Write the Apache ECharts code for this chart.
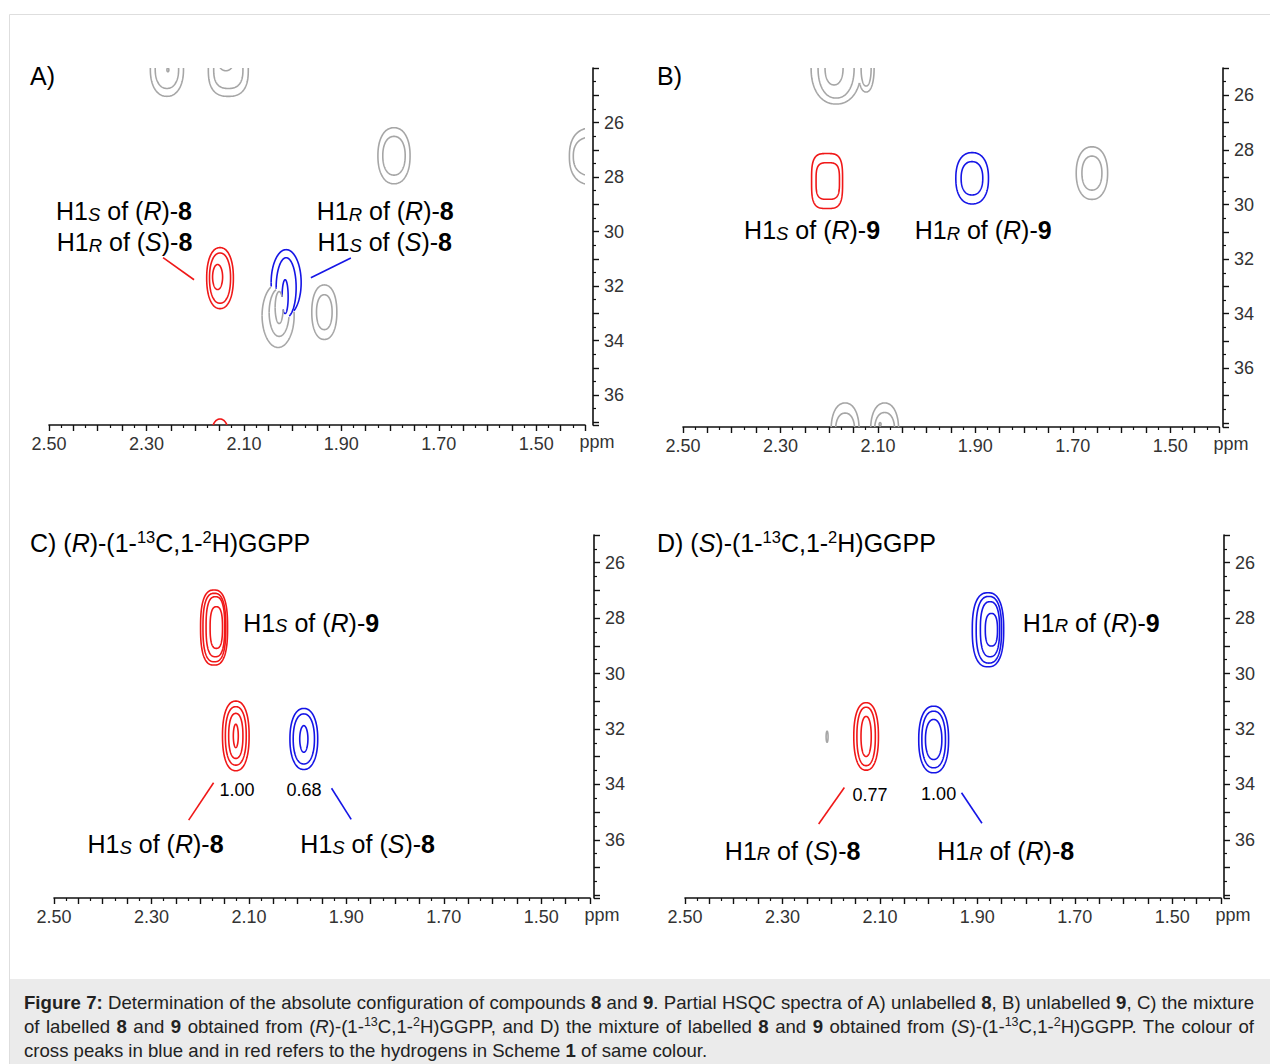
<!DOCTYPE html>
<html>
<head>
<meta charset="utf-8">
<script src="https://cdn.jsdelivr.net/npm/echarts@6/dist/echarts.min.js"></script>
<style>
  html, body { margin: 0; padding: 0; background: #fff; }
  #wrap { position: relative; width: 1270px; height: 1064px; }
  #chart { width: 1270px; height: 1064px; }
  #caption {
    position: absolute; left: 24px; top: 991px; width: 1230px;
    font-family: 'Liberation Sans', Arial, Helvetica, sans-serif;
    font-size: 18.6px; line-height: 24px; color: #222;
  }
  #caption div { white-space: nowrap; }
  #caption div.just { text-align: justify; text-align-last: justify; white-space: normal; }
  #caption sup { font-size: 12.5px; position: relative; top: -7px; vertical-align: baseline; line-height: 0; }
</style>
</head>
<body>
<div id="wrap">
  <div id="chart"></div>
  <div id="caption"></div>
</div>
<script>
// axis ticks / ranges (ppm)
const xTickLabels = ['2.50', '2.30', '2.10', '1.90', '1.70', '1.50'];
const yTickLabels = ['26', '28', '30', '32', '34', '36'];
const protonRange = [1.40, 2.50];
const carbonRanges = [[24, 37.1], [25, 38.15], [25, 38.1], [25, 38.1]];

// contour rings: [1H ppm, 13C ppm, half width (1H), half height (13C), shape exponent, colour, merge group]
const ringsA = [
  [2.258, 24.05, 0.034, 0.99, 2.2, 'grey'],
  [2.258, 24.05, 0.024, 0.70, 2.2, 'grey'],
  [2.256, 24.07, 0.002, 0.07, 2, 'grey'],
  [2.132, 24.05, 0.041, 0.99, 2.6, 'grey'],
  [2.132, 24.05, 0.030, 0.70, 2.6, 'grey'],
  [2.137, 23.85, 0.014, 0.25, 2, 'grey'],
  [1.792, 27.22, 0.033, 1.03, 2.2, 'grey'],
  [1.792, 27.22, 0.023, 0.71, 2.2, 'grey'],
  [1.385, 27.24, 0.047, 1.04, 2.4, 'grey'],
  [1.385, 27.24, 0.039, 0.71, 2.4, 'grey'],
  [2.149, 31.71, 0.0274, 1.12, 2.2, 'red'],
  [2.149, 31.71, 0.0216, 0.92, 2.2, 'red'],
  [2.154, 31.67, 0.0103, 0.46, 2, 'red'],
  [2.149, 37.30, 0.016, 0.42, 2, 'red'],
  [2.0133, 31.875, 0.0308, 1.209, 2, 'blue', 'a1'],
  [2.0298, 33.084, 0.0329, 1.172, 2, 'grey', 'a1'],
  [2.0133, 32.06, 0.0205, 1.099, 2, 'blue', 'a2'],
  [2.0277, 32.97, 0.0205, 0.879, 2, 'grey', 'a2'],
  [2.0154, 32.39, 0.0062, 0.62, 2, 'blue', 'a3'],
  [2.0277, 32.79, 0.0082, 0.586, 2, 'grey', 'a3'],
  [1.935, 32.96, 0.0257, 1.00, 2.2, 'grey'],
  [1.935, 32.96, 0.016, 0.64, 2.2, 'grey']
];
const ringsB = [
  [2.1858, 25.0, 0.0513, 1.32, 2.2, 'grey', 'b1'],
  [2.1242, 25.0, 0.0164, 0.88, 2.2, 'grey', 'b1'],
  [2.1858, 25.0, 0.037, 1.10, 2.2, 'grey', 'b2'],
  [2.1242, 25.0, 0.0103, 0.66, 2.2, 'grey', 'b2'],
  [2.19, 25.0, 0.0185, 0.62, 2.2, 'grey'],
  [2.2043, 29.14, 0.0318, 1.007, 3.5, 'red'],
  [2.2029, 29.14, 0.024, 0.67, 3.5, 'red'],
  [1.9066, 29.04, 0.0335, 0.94, 2.3, 'blue'],
  [1.907, 29.04, 0.0222, 0.61, 2.3, 'blue'],
  [1.6608, 28.85, 0.0322, 0.963, 2.2, 'grey'],
  [1.6608, 28.85, 0.0205, 0.623, 2.2, 'grey'],
  [2.1673, 38.26, 0.0287, 0.99, 2.2, 'grey'],
  [2.1673, 38.26, 0.0195, 0.62, 2.2, 'grey'],
  [2.0862, 38.26, 0.0287, 0.99, 2.2, 'grey'],
  [2.0862, 38.26, 0.0205, 0.64, 2.2, 'grey'],
  [2.0955, 38.05, 0.002, 0.06, 2, 'grey']
];
const ringsC = [
  [2.1715, 28.34, 0.0277, 1.354, 2.6, 'red'],
  [2.1709, 28.34, 0.0234, 1.235, 2.6, 'red'],
  [2.1688, 28.31, 0.0191, 1.083, 2.6, 'red'],
  [2.1669, 28.34, 0.0127, 0.751, 2.6, 'red'],
  [2.1269, 32.25, 0.0273, 1.256, 2.3, 'red'],
  [2.1269, 32.25, 0.0214, 1.054, 2.3, 'red'],
  [2.1269, 32.25, 0.0146, 0.812, 2.3, 'red'],
  [2.1269, 32.25, 0.0051, 0.422, 2, 'red'],
  [1.9873, 32.36, 0.0285, 1.101, 2.2, 'blue'],
  [1.9873, 32.36, 0.0218, 0.903, 2.2, 'blue'],
  [1.9873, 32.36, 0.0084, 0.48, 2, 'blue']
];
const ringsD = [
  [1.8782, 28.42, 0.0322, 1.336, 2.5, 'blue'],
  [1.8764, 28.42, 0.026, 1.202, 2.5, 'blue'],
  [1.8741, 28.40, 0.0197, 0.993, 2.5, 'blue'],
  [1.8712, 28.42, 0.0125, 0.588, 2.5, 'blue'],
  [2.1283, 32.27, 0.0253, 1.217, 2.3, 'red'],
  [2.1283, 32.27, 0.0189, 1.054, 2.3, 'red'],
  [2.1283, 32.27, 0.0105, 0.722, 2.2, 'red'],
  [1.9897, 32.38, 0.0306, 1.202, 2.3, 'blue'],
  [1.9897, 32.38, 0.0242, 1.022, 2.3, 'blue'],
  [1.9897, 32.38, 0.0168, 0.722, 2.2, 'blue'],
  [2.2084, 32.28, 0.002, 0.2, 2, 'grey']
];

// peak assignments: [1H ppm, 13C ppm, text]
const notesA = [
  [2.346, 29.165, 'H1{sc|S} of ({i|R})-{b|8}'],
  [2.345, 30.30, 'H1{sc|R} of ({i|S})-{b|8}'],
  [1.810, 29.165, 'H1{sc|R} of ({i|R})-{b|8}'],
  [1.811, 30.30, 'H1{sc|S} of ({i|S})-{b|8}']
];
const notesB = [
  [2.2351, 30.86, 'H1{sc|S} of ({i|R})-{b|9}'],
  [1.884, 30.86, 'H1{sc|R} of ({i|R})-{b|9}']
];
const notesC = [
  [1.9723, 28.07, 'H1{sc|S} of ({i|R})-{b|9}'],
  [2.2916, 36.07, 'H1{sc|S} of ({i|R})-{b|8}'],
  [1.8563, 36.07, 'H1{sc|S} of ({i|S})-{b|8}']
];
const notesD = [
  [1.6663, 28.07, 'H1{sc|R} of ({i|R})-{b|9}'],
  [2.2791, 36.31, 'H1{sc|R} of ({i|S})-{b|8}'],
  [1.8419, 36.30, 'H1{sc|R} of ({i|R})-{b|8}']
];
// relative integrals
const integralsC = [[2.1242, 34.13, '1.00'], [1.9867, 34.13, '0.68']];
const integralsD = [[2.1201, 34.30, '0.77'], [1.9795, 34.29, '1.00']];
// leader lines: [1H from, 13C from, 1H to, 13C to, colour]
const leadersA = [[2.2659, 30.96, 2.2023, 31.77, 'red'], [1.9626, 31.70, 1.8805, 30.97, 'blue']];
const leadersC = [[2.1725, 33.94, 2.2236, 35.29, 'red'], [1.9304, 34.14, 1.8901, 35.26, 'blue']];
const leadersD = [[2.1729, 34.11, 2.2257, 35.43, 'red'], [1.9325, 34.30, 1.8906, 35.40, 'blue']];

const panelTitles = ['A)', 'B)',
  'C) ({i|R})-(1-{sup|13}C,1-{sup|2}H)GGPP',
  'D) ({i|S})-(1-{sup|13}C,1-{sup|2}H)GGPP'];
const captionLines = [
  '<b>Figure 7:</b> Determination of the absolute configuration of compounds <b>8</b> and <b>9</b>. Partial HSQC spectra of A) unlabelled <b>8</b>, B) unlabelled <b>9</b>, C) the mixture',
  'of labelled <b>8</b> and <b>9</b> obtained from (<i>R</i>)-(1-<sup>13</sup>C,1-<sup>2</sup>H)GGPP, and D) the mixture of labelled <b>8</b> and <b>9</b> obtained from (<i>S</i>)-(1-<sup>13</sup>C,1-<sup>2</sup>H)GGPP. The colour of',
  'cross peaks in blue and in red refers to the hydrogens in Scheme <b>1</b> of same colour.'
];

const FONT = "'Liberation Sans', Arial, Helvetica, sans-serif";
const palette = { red: '#f01818', blue: '#1515e6', grey: '#a6a6a6' };
const layout = [
  { left: 49, top: 68, width: 536, height: 357, offset: 8, title: [30, 73] },
  { left: 683, top: 68, width: 536, height: 359, offset: 4, title: [657, 73] },
  { left: 54, top: 535, width: 536, height: 363, offset: 4, title: [30, 540] },
  { left: 685, top: 535, width: 536, height: 363, offset: 3, title: [657, 540] }
];
const allRings = [ringsA, ringsB, ringsC, ringsD];
const allNotes = [notesA, notesB, notesC, notesD];
const allIntegrals = [[], [], integralsC, integralsD];
const allLeaders = [leadersA, [], leadersC, leadersD];

// plain text pieces become {n|...} so every token aligns the same way
function wrapPlain(s) {
  return s.split(/(\{\w+\|[^}]*\})/).map(p => {
    if (!p) return '';
    return p.charAt(0) === '{' ? p : '{n|' + p + '}';
  }).join('');
}
function richSet(size, color) {
  const lh = Math.round(size * 1.2);
  const base = { fontFamily: FONT, fontSize: size, lineHeight: lh, color: color, verticalAlign: 'bottom' };
  return {
    n: base,
    i: Object.assign({}, base, { fontStyle: 'italic' }),
    b: Object.assign({}, base, { fontWeight: 'bold' }),
    sc: Object.assign({}, base, { fontStyle: 'italic', fontSize: size * 0.74, lineHeight: lh - 0.156 * size }),
    sup: Object.assign({}, base, { fontSize: size * 0.66, lineHeight: size * 0.8, verticalAlign: 'top',
      padding: [Math.round(size * 0.13), 0, 0, 0] })
  };
}
const richLabel = richSet(25, '#2b2b2b');
const richTitle = richSet(25, '#222');

function insideRing(r, h, c) {
  return Math.pow(Math.abs(h - r[0]) / r[2], r[4]) + Math.pow(Math.abs(c - r[1]) / r[3], r[4]) < 1;
}

function ringSeries(i) {
  const rings = allRings[i];
  return {
    type: 'custom', xAxisIndex: i, yAxisIndex: i, clip: true, silent: true,
    data: rings.map((r, k) => [r[0], r[1], k]),
    encode: { x: 0, y: 1 },
    renderItem: function (params, api) {
      const r = rings[api.value(2)];
      const ex = 2 / r[4];
      const segs = [];
      let cur = [];
      const n = 160;
      for (let k = 0; k <= n; k++) {
        const t = 2 * Math.PI * k / n;
        const ct = Math.cos(t), st = Math.sin(t);
        const h = r[0] + r[2] * Math.sign(ct) * Math.pow(Math.abs(ct), ex);
        const c = r[1] + r[3] * Math.sign(st) * Math.pow(Math.abs(st), ex);
        let hidden = false;
        if (r[6]) {
          rings.forEach(o => { if (o !== r && o[6] === r[6] && insideRing(o, h, c)) hidden = true; });
        }
        if (hidden) {
          if (cur.length > 1) segs.push(cur);
          cur = [];
        } else {
          cur.push(api.coord([h, c]));
        }
      }
      if (cur.length > 1) segs.push(cur);
      return {
        type: 'group',
        children: segs.map(pts => ({
          type: 'polyline', shape: { points: pts },
          style: { stroke: palette[r[5]], lineWidth: 1.6, fill: null }
        }))
      };
    }
  };
}

function leaderSeries(i) {
  const lines = allLeaders[i];
  return {
    type: 'custom', xAxisIndex: i, yAxisIndex: i, silent: true,
    data: lines.map((l, k) => [l[0], l[1], l[2], l[3], k]),
    encode: { x: [0, 2], y: [1, 3] },
    renderItem: function (params, api) {
      const l = lines[api.value(4)];
      const a = api.coord([l[0], l[1]]);
      const b = api.coord([l[2], l[3]]);
      return {
        type: 'line', shape: { x1: a[0], y1: a[1], x2: b[0], y2: b[1] },
        style: { stroke: palette[l[4]], lineWidth: 1.6 }
      };
    }
  };
}

function textSeries(i, items, rich, size) {
  return {
    type: 'custom', xAxisIndex: i, yAxisIndex: i, silent: true,
    data: items.map((t, k) => [t[0], t[1], k]),
    encode: { x: 0, y: 1 },
    renderItem: function (params, api) {
      const t = items[api.value(2)];
      const p = api.coord([t[0], t[1]]);
      return {
        type: 'text', x: p[0], y: p[1],
        style: {
          text: wrapPlain(t[2]), rich: rich, fontFamily: FONT, fontSize: size,
          align: 'center', textAlign: 'center', verticalAlign: 'middle', textVerticalAlign: 'middle'
        }
      };
    }
  };
}

const chart = echarts.init(document.getElementById('chart'), null, { renderer: 'svg' });

const grids = [], xAxes = [], yAxes = [], series = [], graphics = [];
const axisColor = '#111';
const labelStyle = { fontFamily: FONT, fontSize: 18, color: '#333' };

layout.forEach((g, i) => {
  grids.push({ left: g.left, top: g.top, width: g.width, height: g.height, containLabel: false, outerBoundsMode: 'none' });
  xAxes.push({
    gridIndex: i, type: 'value', inverse: true,
    min: protonRange[0], max: protonRange[1], interval: 0.05,
    axisLine: { show: true, onZero: false, lineStyle: { color: axisColor, width: 1.6 } },
    axisTick: { show: true, length: 6, lineStyle: { color: axisColor, width: 1.4 } },
    minorTick: { show: true, splitNumber: 2, length: 3, lineStyle: { color: axisColor, width: 1.2 } },
    splitLine: { show: false },
    axisLabel: Object.assign({
      margin: 10, showMinLabel: true, showMaxLabel: true,
      formatter: v => { const s = v.toFixed(2); return xTickLabels.indexOf(s) >= 0 ? s : ''; }
    }, labelStyle)
  });
  yAxes.push({
    gridIndex: i, type: 'value', inverse: true, position: 'right', offset: g.offset,
    min: carbonRanges[i][0], max: carbonRanges[i][1], interval: 1,
    axisLine: { show: true, onZero: false, lineStyle: { color: axisColor, width: 1.6 } },
    axisTick: { show: true, length: 6, lineStyle: { color: axisColor, width: 1.4 } },
    minorTick: { show: true, splitNumber: 2, length: 3, lineStyle: { color: axisColor, width: 1.2 } },
    splitLine: { show: false },
    axisLabel: Object.assign({
      margin: 11, showMinLabel: true, showMaxLabel: true,
      formatter: v => {
        const r = Math.round(v);
        return Math.abs(v - r) < 1e-6 && yTickLabels.indexOf(String(r)) >= 0 ? String(r) : '';
      }
    }, labelStyle)
  });
  series.push(ringSeries(i));
  if (allLeaders[i].length) series.push(leaderSeries(i));
  series.push(textSeries(i, allNotes[i], richLabel, 25));
  if (allIntegrals[i].length) series.push(textSeries(i, allIntegrals[i], richSet(18, '#333'), 18));

  graphics.push({
    type: 'text', x: g.title[0], y: g.title[1], silent: true,
    style: { text: wrapPlain(panelTitles[i]), rich: richTitle, fontFamily: FONT, fontSize: 25,
      verticalAlign: 'middle', textVerticalAlign: 'middle' }
  });
  graphics.push({
    type: 'text', x: g.left + g.width + 12, y: g.top + g.height + 17, silent: true,
    style: { text: 'ppm', fontFamily: FONT, fontSize: 18, fill: '#333',
      align: 'center', textAlign: 'center', verticalAlign: 'middle', textVerticalAlign: 'middle' }
  });
});

// figure frame and caption box
graphics.unshift(
  { type: 'rect', silent: true, z: -10, shape: { x: 9.5, y: 14.5, width: 1270, height: 1060 },
    style: { fill: '#fff', stroke: '#dedede', lineWidth: 1 } },
  { type: 'rect', silent: true, z: -9, shape: { x: 10, y: 979, width: 1260, height: 85 },
    style: { fill: '#ebebeb' } }
);

chart.setOption({
  animation: false,
  backgroundColor: '#fff',
  grid: grids,
  xAxis: xAxes,
  yAxis: yAxes,
  graphic: graphics,
  series: series
});

// caption: justified like the journal layout
document.getElementById('caption').innerHTML = captionLines.map((line, k) =>
  '<div' + (k < captionLines.length - 1 ? ' class="just"' : '') + '>' + line + '</div>').join('');
</script>
</body>
</html>
